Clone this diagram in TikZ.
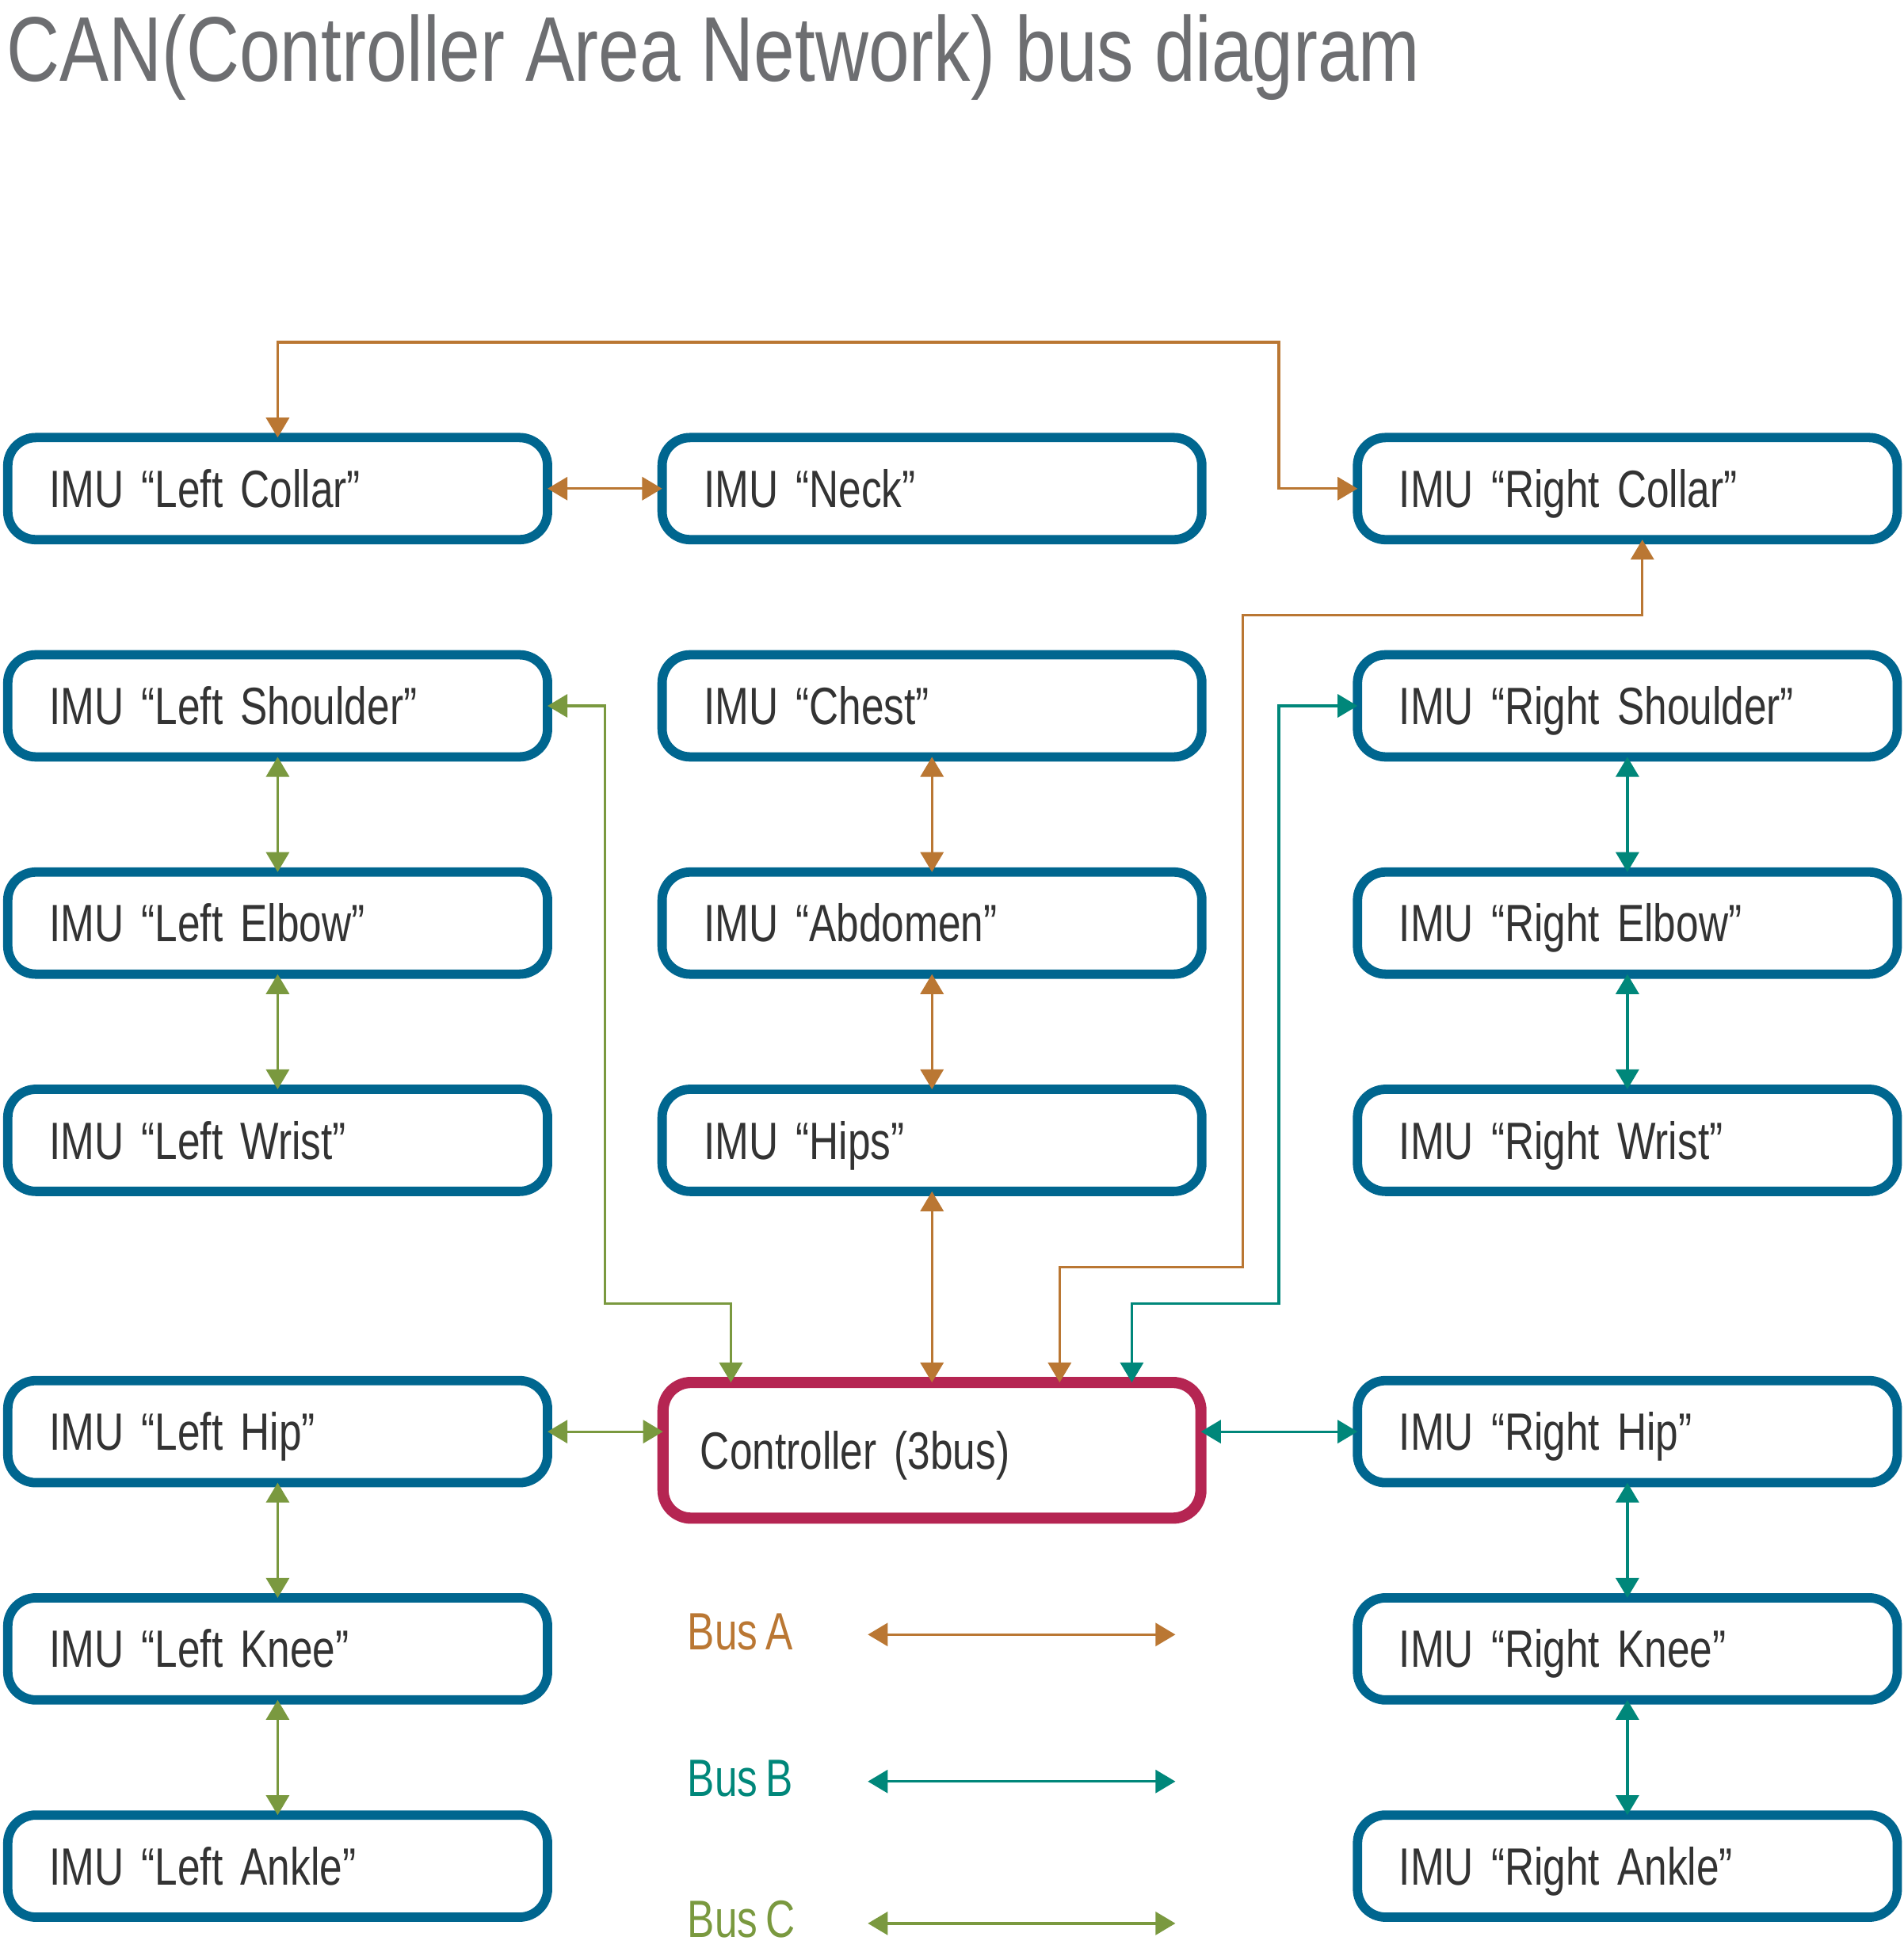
\documentclass[tikz,border=0pt]{standalone}
\usepackage{fontspec}
\setmainfont{Liberation Sans}[FakeStretch=0.775, WordSpace=0.72]
\newfontfamily\titlefont{Liberation Sans}[FakeStretch=0.8]
\usetikzlibrary{positioning, arrows.meta}

\definecolor{imublue}{HTML}{00668F}
\definecolor{ctrlred}{HTML}{B52552}
\definecolor{busacol}{HTML}{BA7733}
\definecolor{busbcol}{HTML}{00877A}
\definecolor{buscclr}{HTML}{7A993F}
\definecolor{labelgray}{HTML}{333333}
\definecolor{titlegray}{HTML}{6D6E71}

\begin{document}
\begin{tikzpicture}[node distance = 1.85cm and 1.84cm,
imu/.style= {rectangle, rounded corners= 4.5mm, draw=imublue, line width=1.5mm, outer sep=0pt, inner ysep=0pt, inner xsep=6.7mm, text width=73.3mm, minimum height=16.4mm, align=left, text height=6mm, text depth=0pt, text=labelgray, font=\fontsize{24}{28}\selectfont},
ctrl/.style= {imu, draw=ctrlred, line width=1.8mm, minimum height=21.8mm, inner xsep=6mm, text width=74.4mm},
bus/.style= {line width=1.2pt, {Triangle[length=3.2mm, width=3.7mm]}-{Triangle[length=3.2mm, width=3.7mm]}},
busA/.style= {bus, draw=busacol},
busB/.style= {bus, draw=busbcol},
busC/.style= {bus, draw=buscclr},
legend/.style= {anchor=west, inner sep=0pt, text height=6mm, text depth=0pt, font=\fontsize{24}{28}\selectfont} ]
\useasboundingbox[fill=white] (0,0) rectangle (30.58,-31.36);
\node (title) [anchor=base west, inner sep=0pt, text=titlegray, font=\titlefont\fontsize{42}{48}\selectfont] at (0.1,-1.3) {CAN(Controller Area Network) bus diagram};
% upper body
\node (LCollar) [imu] at (4.46,-7.85) {IMU “Left Collar”};
\node (Neck) [imu, right = of LCollar] {IMU “Neck”};
\node (RCollar) [imu, right = 2.5cm of Neck] {IMU “Right Collar”};
\node (LShoulder) [imu, below = of LCollar] {IMU “Left Shoulder”};
\node (Chest) [imu, below = of Neck] {IMU “Chest”};
\node (RShoulder) [imu, below = of RCollar] {IMU “Right Shoulder”};
\node (LElbow) [imu, below = of LShoulder] {IMU “Left Elbow”};
\node (Abdomen) [imu, below = of Chest] {IMU “Abdomen”};
\node (RElbow) [imu, below = of RShoulder] {IMU “Right Elbow”};
\node (LWrist) [imu, below = of LElbow] {IMU “Left Wrist”};
\node (Hips) [imu, below = of Abdomen] {IMU “Hips”};
\node (RWrist) [imu, below = of RElbow] {IMU “Right Wrist”};
% lower body
\node (LHip) [imu, below = 3.04cm of LWrist] {IMU “Left Hip”};
\node (Ctrl) [ctrl, below = 3.07cm of Hips] {Controller (3bus)};
\node (RHip) [imu, below = 3.04cm of RWrist] {IMU “Right Hip”};
\node (LKnee) [imu, below = of LHip] {IMU “Left Knee”};
\node (RKnee) [imu, below = of RHip] {IMU “Right Knee”};
\node (LAnkle) [imu, below = of LKnee] {IMU “Left Ankle”};
\node (RAnkle) [imu, below = of RKnee] {IMU “Right Ankle”};
% bend points
\coordinate (aTop) at (20.54,-5.5);
\coordinate (aLow) at (19.96,-20.36);
\coordinate (aHigh) at (19.96,-9.88);
\coordinate (bTurn) at (20.54,-20.94);
\coordinate (cTurn) at (9.72,-20.94);
% bus A
\path (LCollar.east) edge[busA] (Neck.west);
\draw[busA] (LCollar.north) |- (aTop) |- (RCollar.west);
\draw[busA] ([xshift=2.05cm]Ctrl.north) |- (aLow) -- (aHigh) -| ([xshift=0.24cm]RCollar.south);
\path (Chest.south) edge[busA] (Abdomen.north);
\path (Abdomen.south) edge[busA] (Hips.north);
\path (Hips.south) edge[busA] (Ctrl.north);
% bus B
\draw[busB] ([xshift=3.21cm]Ctrl.north) |- (bTurn) |- (RShoulder.west);
\path (RShoulder.south) edge[busB] (RElbow.north);
\path (RElbow.south) edge[busB] (RWrist.north);
\path (RHip.west -| Ctrl.east) edge[busB] (RHip.west);
\path (RHip.south) edge[busB] (RKnee.north);
\path (RKnee.south) edge[busB] (RAnkle.north);
% bus C
\draw[busC] ([xshift=-3.23cm]Ctrl.north) |- (cTurn) |- (LShoulder.east);
\path (LShoulder.south) edge[busC] (LElbow.north);
\path (LElbow.south) edge[busC] (LWrist.north);
\path (LHip.east) edge[busC] (LHip.east -| Ctrl.west);
\path (LHip.south) edge[busC] (LKnee.north);
\path (LKnee.south) edge[busC] (LAnkle.north);
% legend
\node (BusAlab) [legend, text=busacol] at (11.04,-26.2) {Bus A};
\node (BusBlab) [legend, text=busbcol] at (11.04,-28.56) {Bus B};
\node (BusClab) [legend, text=buscclr] at (11.04,-30.82) {Bus C};
\coordinate (legAl) at (13.94,-26.26);
\coordinate (legAr) at (18.88,-26.26);
\coordinate (legBl) at (13.94,-28.62);
\coordinate (legBr) at (18.88,-28.62);
\coordinate (legCl) at (13.94,-30.9);
\coordinate (legCr) at (18.88,-30.9);
\path (legAl) edge[busA] (legAr);
\path (legBl) edge[busB] (legBr);
\path (legCl) edge[busC] (legCr);
\end{tikzpicture}
\end{document}
